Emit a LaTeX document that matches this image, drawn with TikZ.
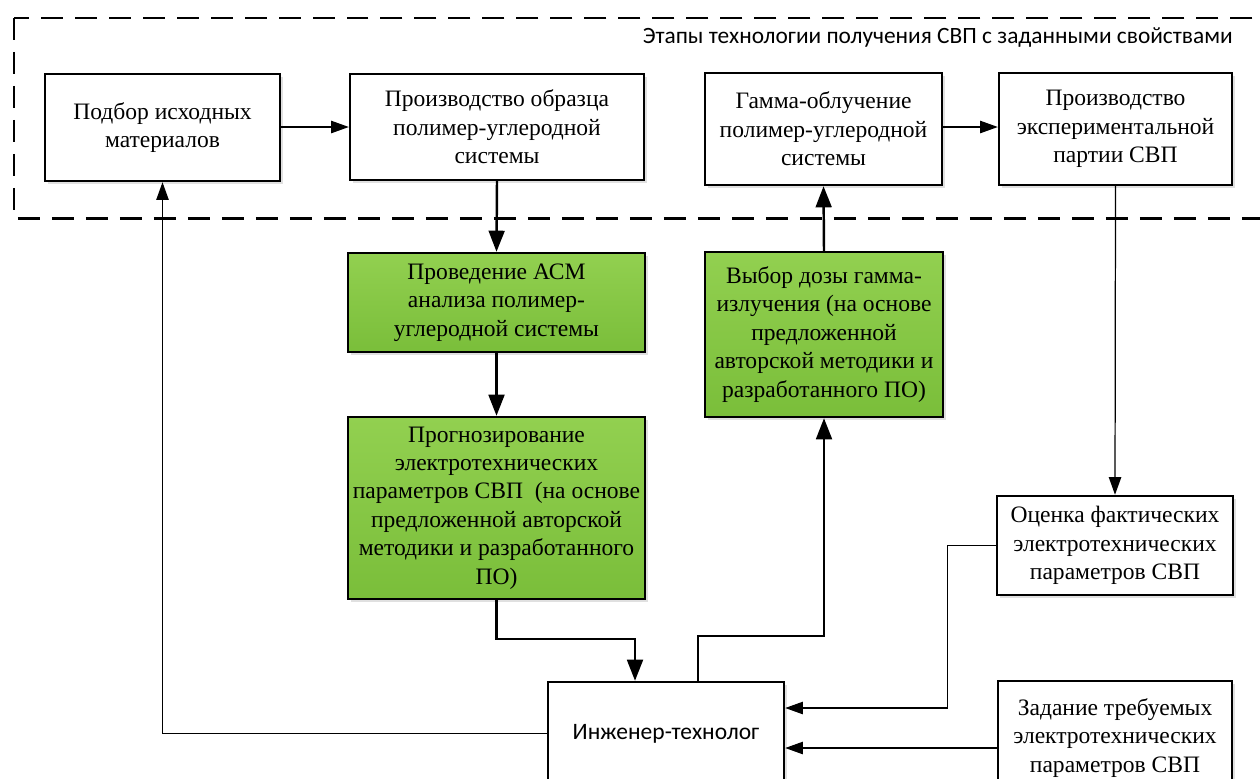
\documentclass[tikz,border=0pt]{standalone}
\usepackage{fontspec}
\setmainfont{Liberation Serif}
\newfontfamily\calibri{Carlito}
\usepackage{tikz}
\usetikzlibrary{positioning,calc,arrows.meta,shadows}
\tikzset{>={Triangle[length=10pt,width=7pt]}}
\definecolor{greentop}{RGB}{146,208,80}
\definecolor{greenbot}{RGB}{122,190,58}
\tikzset{
  stage/.style={draw,line width=1.4pt,fill=white,align=center,inner sep=2pt,
    font=\fontsize{13.4}{16.2}\selectfont,
    drop shadow={shadow xshift=1.6pt,shadow yshift=-1.6pt,fill=black!12,opacity=1}},
  greenstage/.style={stage,top color=greentop,bottom color=greenbot},
  thin line/.style={line width=0.7pt,->},
  thick line/.style={line width=1.4pt,-{Triangle[length=12pt,width=9pt]}},
  frame/.style={line width=1.7pt,dash pattern=on 0.44cm off 0.24cm}
}

\begin{document}
\begin{tikzpicture}[x=0.02cm,y=-0.02cm]
% Picture is 1260 x 778, y runs down
\useasboundingbox (0,0) rectangle (1260,778);
\clip (0,0) rectangle (1260,778);

% Frame of the technology stages
\draw[frame] (14,18) rectangle (1300,218);
\node[anchor=east,inner sep=0pt,font=\calibri\fontsize{13.3}{15}\selectfont] (title) at (1233,38)
  {Этапы технологии получения СВП с заданными свойствами};

% Stages inside the frame
\node[stage,minimum width=4.7cm,minimum height=2.14cm] (podbor) at (162.5,127.5)
  {Подбор исходных\\материалов};
\node[stage,minimum width=5.88cm,minimum height=2.12cm] (obrazec) at (497,127)
  {Производство образца\\полимер-углеродной\\системы};
\node[stage,minimum width=4.74cm,minimum height=2.24cm] (gamma) at (823.5,129)
  {Гамма-облучение\\полимер-углеродной\\системы};
\node[stage,minimum width=4.66cm,minimum height=2.24cm] (partiya) at (1115.5,129)
  {Производство\\экспериментальной\\партии СВП};

% Analysis and dose choice
\node[greenstage,minimum width=5.94cm,minimum height=1.98cm] (acm) at (496.5,302.5)
  {Проведение АСМ\\анализа полимер-\\углеродной системы};
\node[greenstage,minimum width=5.94cm,minimum height=3.64cm] (prognoz) at (496.5,508)
  {Прогнозирование\\электротехнических\\параметров СВП~~(на основе\\предложенной авторской\\методики и разработанного\\ПО)};
\node[greenstage,minimum width=4.76cm,minimum height=3.3cm] (vybor) at (824,334.5)
  {Выбор дозы гамма-\\излучения (на основе\\предложенной\\авторской методики и\\разработанного ПО)};

% Evaluation, engineer and requirements
\node[stage,minimum width=4.72cm,minimum height=1.98cm] (otsenka) at (1115,545.5)
  {Оценка фактических\\электротехнических\\параметров СВП};
\node[stage,minimum width=4.72cm,minimum height=2.06cm,
  font=\calibri\fontsize{13.4}{15}\selectfont] (inzh) at (666,733.5)
  {Инженер-технолог};
\node[stage,minimum width=4.68cm,minimum height=2.28cm] (zadanie) at (1115,738)
  {Задание требуемых\\электротехнических\\параметров СВП};

% Connectors along the frame
\draw[thin line] (podbor.east |- 0,127) -- (obrazec.west |- 0,127);
\draw[thin line] (gamma.east |- 0,127) -- (partiya.west |- 0,127);
\draw[thick line] (obrazec.south) -- (acm.north);
\draw[thick line] (acm.south) -- (prognoz.north);
\draw[thick line] (vybor.north) -- (gamma.south);

% Connectors to and from the engineer
\draw[thick line] (prognoz.south) -- ++(0,39) -| ($(inzh.north)+(-31,0)$);
\draw[thick line] ($(inzh.north)+(32,0)$) -- ++(0,-45) -| (vybor.south);
\draw[thin line] (partiya.south) -- (otsenka.north);
\draw[thin line] (otsenka.west) -- ++(-48,0) |- ($(inzh.east)+(0,-25.5)$);
\draw[thin line] (zadanie.west |- 0,748) -- (inzh.east |- 0,748);
\draw[thin line] (inzh.west) -| (podbor.south);

\end{tikzpicture}
\end{document}
